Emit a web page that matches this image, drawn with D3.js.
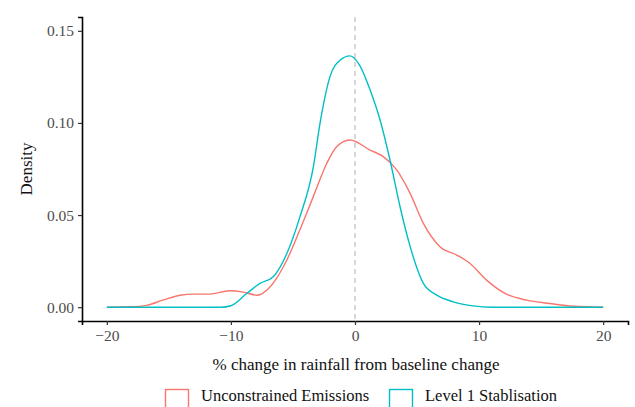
<!DOCTYPE html>
<html><head><meta charset="utf-8">
<script src="https://cdn.jsdelivr.net/npm/d3@7"></script>
<style>body{margin:0;background:#fff}svg{display:block}text{font-family:"Liberation Serif","DejaVu Serif",serif}</style>
</head><body>
<svg id="c" width="635" height="407"></svg>
<script>
const seriesNames = ["Unconstrained Emissions", "Level 1 Stablisation"];
const seriesColors = ["#F8766D", "#00BFC4"];
const unconstrainedX = [-20,-18.1,-16.8,-15.5,-14.1,-13.0,-11.7,-10.1,-9.0,-7.9,-6.85,-5.5,-4.44,-3.36,-2.28,-1.48,-0.4,1.21,2.28,3.36,4.44,5.51,6.85,8.2,9.27,10.6,12.2,13.85,15.7,17.6,20];
const unconstrainedY = [0,0.0002,0.001,0.0038,0.0065,0.0071,0.0071,0.0089,0.0082,0.0065,0.011,0.0255,0.042,0.06,0.078,0.0871,0.0907,0.0853,0.0817,0.0745,0.0618,0.0455,0.0328,0.0283,0.0237,0.0147,0.0071,0.0038,0.002,0.0005,0];
const levelX = [-20,-10.8,-10.0,-8.73,-7.66,-6.59,-5.5,-4.44,-3.36,-2.82,-2.02,-1.21,-0.4,0.4,1.21,2.02,2.82,3.63,4.44,5.51,6.59,7.93,9.54,11.0,20];
const levelY = [0,0,0.0008,0.0074,0.0129,0.0165,0.029,0.049,0.076,0.0998,0.125,0.134,0.1364,0.131,0.118,0.1016,0.0799,0.0545,0.033,0.0129,0.0065,0.0029,0.0007,0,0];
const xTicks = [-20,-10,0,10,20];
const yTicks = [0,0.05,0.10,0.15];
const yTickLabels = ["0.00","0.05","0.10","0.15"];

const svg = d3.select("#c");
const x = d3.scaleLinear().domain([-22,22]).range([82,628]);
const y = d3.scaleLinear().domain([-0.0075,0.1575]).range([321,17]);

svg.append("line").attr("x1",x(0)).attr("x2",x(0)).attr("y1",y(0.1575)).attr("y2",y(-0.0075))
  .attr("stroke","#bdbdbd").attr("stroke-width",1.2).attr("stroke-dasharray","5,4");

const line = d3.line().x(d=>x(d[0])).y(d=>y(d[1])).curve(d3.curveMonotoneX);
const series = [d3.zip(unconstrainedX,unconstrainedY), d3.zip(levelX,levelY)];
series.forEach((s,i)=>{
  svg.append("path").datum(s).attr("d",line).attr("fill","none")
    .attr("stroke",seriesColors[i]).attr("stroke-width",1.4);
});

const xa = svg.append("g").attr("transform",`translate(0,${y(-0.0075)})`)
  .call(d3.axisBottom(x).tickValues(xTicks).tickSize(4).tickPadding(5).tickFormat(d3.format("d")));
const ya = svg.append("g").attr("transform",`translate(${x(-22)},0)`)
  .call(d3.axisLeft(y).tickValues(yTicks).tickSize(4).tickPadding(4).tickFormat((d,i)=>yTickLabels[i]));
[xa,ya].forEach(a=>{
  a.select(".domain").attr("stroke","#000").attr("stroke-width",1.6);
  a.selectAll(".tick line").attr("stroke","#333").attr("stroke-width",1.2);
  a.selectAll(".tick text").attr("fill","#4d4d4d").attr("font-size",15.5).style("font-family","'Liberation Serif',serif");
});

svg.append("text").attr("x",356).attr("y",370).attr("text-anchor","middle").attr("font-size",17).attr("fill","#111")
  .text("% change in rainfall from baseline change");
svg.append("text").attr("transform","translate(32,169) rotate(-90)").attr("text-anchor","middle").attr("font-size",17).attr("fill","#111")
  .text("Density");

const lg = svg.append("g");
const keyX = [165, 389];
seriesNames.forEach((n,i)=>{
  lg.append("rect").attr("x",keyX[i]+0.5).attr("y",389.5).attr("width",23).attr("height",23)
    .attr("fill","none").attr("stroke",seriesColors[i]).attr("stroke-width",1.4);
  lg.append("text").attr("x",keyX[i]+36).attr("y",401).attr("font-size",16.5).attr("fill","#111").text(n);
});
</script>
</body></html>
